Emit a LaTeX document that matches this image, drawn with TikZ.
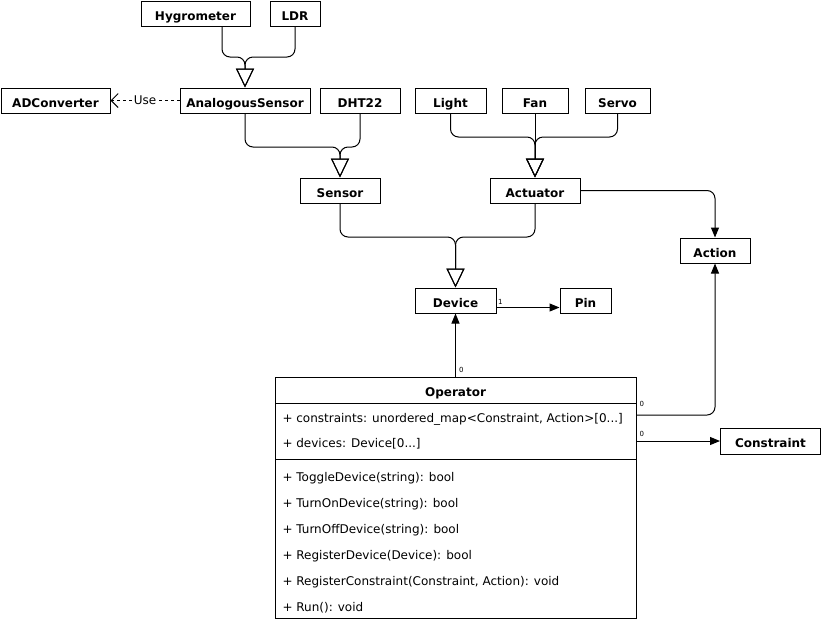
\documentclass[tikz,border=0pt]{standalone}
\usepackage{fontspec}
\setmainfont{DejaVu Sans}
\usetikzlibrary{arrows.meta}

\begin{document}
\begin{tikzpicture}[x=1pt,y=-1pt,line width=1pt,
  cls/.style={draw,font=\fontsize{12}{14}\selectfont\bfseries,minimum height=25pt,inner sep=0pt,
    text height=13pt,text depth=0pt},
  gen/.style={-{Triangle[open,length=19pt,width=18pt]},rounded corners=8pt},
  assoc/.style={-{Triangle[length=10pt,width=8pt]},rounded corners=8pt},
  mult/.style={font=\fontsize{7}{8}\selectfont,inner sep=1pt,anchor=south west},
  member/.style={anchor=base west,inner sep=0pt,font=\fontsize{12}{14}\selectfont}]
\useasboundingbox (0,0) rectangle (821,622);

% sensors
\node[cls,minimum width=109pt] (hygro) at (195.5,13.5) {Hygrometer};
\node[cls,minimum width=50pt] (ldr) at (295,13.5) {LDR};
\node[cls,minimum width=109pt] (adc) at (55.5,100.5) {ADConverter};
\node[cls,minimum width=130pt] (analog) at (245,100.5) {AnalogousSensor};
\node[cls,minimum width=80pt] (dht) at (360,100.5) {DHT22};
\node[cls,minimum width=80pt] (sensor) at (340,190.5) {Sensor};

% actuators
\node[cls,minimum width=71pt] (light) at (450.5,100.5) {Light};
\node[cls,minimum width=66pt] (fan) at (535,100.5) {Fan};
\node[cls,minimum width=65pt] (servo) at (617.5,100.5) {Servo};
\node[cls,minimum width=90pt] (actuator) at (535,190.5) {Actuator};
\node[cls,minimum width=70pt] (action) at (715,250.5) {Action};

\node[cls,minimum width=81pt] (device) at (455.5,300.5) {Device};
\node[cls,minimum width=51pt] (pin) at (585.5,300.5) {Pin};
\node[cls,minimum width=100pt,minimum height=26pt] (constraint) at (770.5,441) {Constraint};

% operator class
\node[draw,minimum width=361pt,minimum height=241pt] (op) at (455.5,497.5) {};
\node[font=\fontsize{12}{14}\selectfont\bfseries,anchor=base] (optitle) at (455.5,396.5) {Operator};
\draw (275,403) -- (636,403);
\node[member] (attr1) at (282,422.5) {+ constraints: unordered\_map<Constraint, Action>[0...]};
\node[member] (attr2) at (282,447.5) {+ devices: Device[0...]};
\draw (275,459) -- (636,459);
\foreach \m [count=\i] in {+ ToggleDevice(string): bool, + TurnOnDevice(string): bool,
  + TurnOffDevice(string): bool, + RegisterDevice(Device): bool,
  {+ RegisterConstraint(Constraint, Action): void}, + Run(): void}
  \node[member] at (282,455.5+26*\i) {\m};
\coordinate (opA) at (636,415);
\coordinate (opC) at (636,441);

% inheritance
\draw[gen] ([xshift=26.5pt]hygro.south) |- (245,57) -- (analog.north);
\draw[gen] (ldr.south) |- (245,57) -- (analog.north);
\draw[gen] (analog.south) |- (340,147) -- (sensor.north);
\draw[gen] (dht.south) |- (340,147) -- (sensor.north);
\draw[gen] (light.south) |- (535,137) -- (actuator.north);
\draw[gen] (fan.south) -- (actuator.north);
\draw[gen] (servo.south) |- (535,137) -- (actuator.north);
\draw[gen] (sensor.south) |- (455.5,237) -- (device.north);
\draw[gen] (actuator.south) |- (455.5,237) -- (device.north);

% associations
\draw[dash pattern=on 3pt off 3pt,-{Straight Barb[length=7pt,width=14pt]}] (analog.west)
  -- node[fill=white,inner sep=1pt,font=\fontsize{12}{14}\selectfont] {Use} (adc.east);
\draw[assoc] (actuator.east) -| (action.north);
\draw[assoc] ([yshift=-7pt]device.east) -- node[mult,pos=0,yshift=2pt] {1} ([yshift=-7pt]pin.west);
\draw[assoc] (op.north) -- node[mult,pos=0,xshift=2pt,yshift=2pt] {0} (device.south);
\draw[assoc] (opA) -| node[mult,pos=0,xshift=2pt,yshift=7pt] {0} (action.south);
\draw[assoc] (opC) -- node[mult,pos=0,xshift=2pt,yshift=3pt] {0} (constraint.west);
\end{tikzpicture}
\end{document}
